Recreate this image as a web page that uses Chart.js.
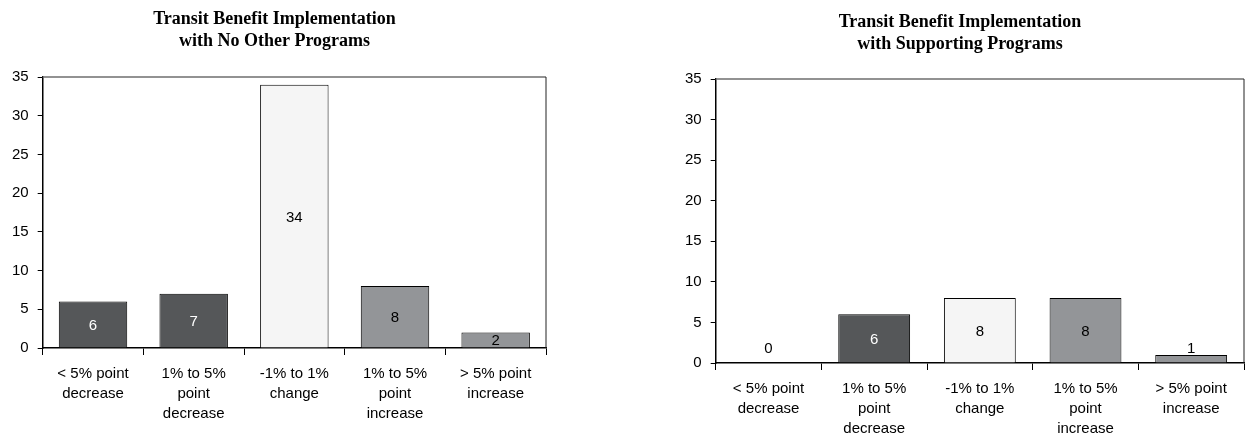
<!DOCTYPE html>
<html>
<head>
<meta charset="utf-8">
<script src="https://cdn.jsdelivr.net/npm/chart.js@4.4.0/dist/chart.umd.min.js"></script>
<style>
  body { margin: 0; background: #fff; width: 1248px; height: 436px; overflow: hidden; position: relative; }
  .box { position: absolute; top: 0; }
  #leftBox { left: 0; width: 548px; height: 436px; }
  #rightBox { left: 676px; width: 572px; height: 448px; }
</style>
</head>
<body>
<div class="box" id="leftBox"><canvas id="leftChart"></canvas></div>
<div class="box" id="rightBox"><canvas id="rightChart"></canvas></div>
<script>
const categories = [
    ['< 5% point', 'decrease'],
    ['1% to 5%', 'point', 'decrease'],
    ['-1% to 1%', 'change'],
    ['1% to 5%', 'point', 'increase'],
    ['> 5% point', 'increase']
];
const noOtherValues = [6, 7, 34, 8, 2];
const supportingValues = [0, 6, 8, 8, 1];
const yTicks = [0, 5, 10, 15, 20, 25, 30, 35];

const barColors = ['#555759', '#555759', '#f5f5f5', '#939598', '#939598'];
const labelColors = ['#ffffff', '#ffffff', '#000000', '#000000', '#000000'];

// frame round the plot area, and value labels in the bars
const framePlugin = {
    id: 'frame',
    afterDraw(chart) {
        const { ctx, chartArea: a } = chart;
        ctx.save();
        ctx.lineWidth = 1.5;
        ctx.strokeStyle = '#6e6e6e';
        ctx.beginPath();
        ctx.moveTo(a.left, a.top);
        ctx.lineTo(a.right, a.top);
        ctx.stroke();
        ctx.strokeStyle = '#222222';
        ctx.lineWidth = 1;
        ctx.beginPath();
        ctx.moveTo(a.right, a.top);
        ctx.lineTo(a.right, a.bottom);
        ctx.stroke();
        ctx.restore();

        const meta = chart.getDatasetMeta(0);
        const base = chart.scales.y.getPixelForValue(0);
        ctx.save();
        ctx.font = '15px "Liberation Sans", Arial, sans-serif';
        ctx.textAlign = 'center';
        ctx.textBaseline = 'middle';
        meta.data.forEach((bar, i) => {
            const h = base - bar.y;
            let y = (bar.y + base) / 2;
            if (h < 12) y = base - 15;
            ctx.fillStyle = h < 12 ? '#000000' : labelColors[i];
            ctx.fillText(String(chart.data.datasets[0].data[i]), bar.x, y + 1);
        });
        ctx.restore();
    }
};

function makeChart(id, values, titleLines, padding, titleGap) {
    const ctx = document.getElementById(id).getContext('2d');
    return new Chart(ctx, {
        type: 'bar',
        data: {
            labels: categories,
            datasets: [{
                data: values,
                backgroundColor: barColors,
                borderColor: '#000000',
                borderWidth: 1,
                borderSkipped: 'bottom',
                barPercentage: 0.68,
                categoryPercentage: 1
            }]
        },
        options: {
            responsive: true,
            maintainAspectRatio: false,
            animation: false,
            layout: { padding: padding },
            plugins: {
                legend: { display: false },
                tooltip: { enabled: false },
                title: {
                    display: true,
                    text: titleLines,
                    color: '#000000',
                    font: { family: '"Liberation Serif", "Times New Roman", serif', size: 18, weight: 'bold', lineHeight: 1.25 },
                    padding: { top: 0, bottom: titleGap }
                }
            },
            scales: {
                x: {
                    grid: { offset: true, drawOnChartArea: false, drawTicks: true, tickLength: 7, color: '#000000' },
                    border: { display: true, color: '#000000', width: 1.5 },
                    ticks: {
                        color: '#000000',
                        font: { family: '"Liberation Sans", Arial, sans-serif', size: 15, lineHeight: '20px' },
                        maxRotation: 0,
                        padding: 9
                    }
                },
                y: {
                    min: 0,
                    max: 35,
                    afterBuildTicks(scale) {
                        scale.ticks = yTicks.map(v => ({ value: v }));
                    },
                    grid: { drawOnChartArea: false, drawTicks: true, tickLength: 5, color: '#000000' },
                    border: { display: true, color: '#000000', width: 1.5 },
                    ticks: {
                        color: '#000000',
                        font: { family: '"Liberation Sans", Arial, sans-serif', size: 15 },
                        padding: 9
                    }
                }
            }
        },
        plugins: [framePlugin]
    });
}

makeChart('leftChart', noOtherValues,
    ['Transit Benefit Implementation', 'with No Other Programs'],
    { top: 8, left: 3, right: 2, bottom: 3 }, 24);

makeChart('rightChart', supportingValues,
    ['Transit Benefit Implementation', 'with Supporting Programs'],
    { top: 11, left: 0, right: 4, bottom: 0 }, 23);
</script>
</body>
</html>
